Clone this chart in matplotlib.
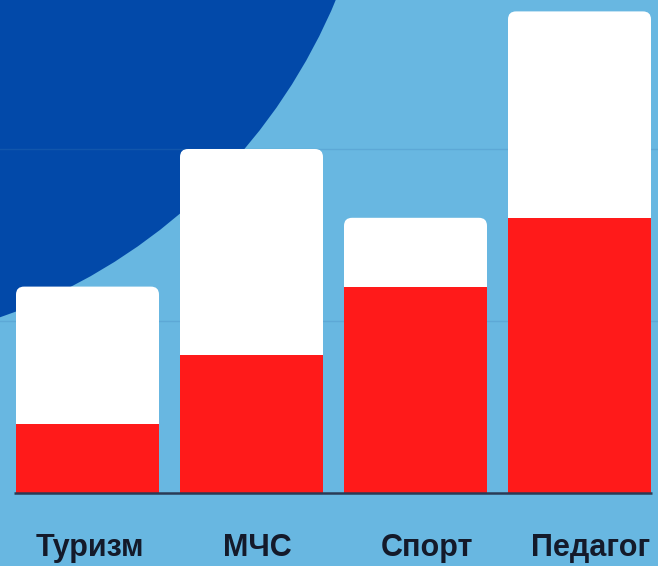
import matplotlib
matplotlib.use("Agg")
import matplotlib.pyplot as plt
from matplotlib.patches import FancyBboxPatch, Ellipse
import numpy as np

categories = ["Туризм", "МЧС", "Спорт", "Педагог"]
red_values = [0.4, 0.8, 1.2, 1.6]
total_values = [1.2, 2.0, 1.6, 2.8]
label_offsets = [0.015, 0.035, 0.07, 0.07]

W, H = 658, 566
fig = plt.figure(figsize=(W / 100, H / 100), dpi=100)
ax = fig.add_axes([0, 0, 1, 1])
bg = "#68b7e1"
ax.set_facecolor(bg)
fig.patch.set_facecolor(bg)

px_x = 164.0
px_y = 172.0
x0 = -87.5 / px_x
ax.set_xlim(x0, x0 + W / px_x)
ax.set_ylim(-(H - 493) / px_y, 493 / px_y)
ax.axis("off")

circ = Ellipse((-190 / W, 1 + 220 / H), 2 * 570 / W, 2 * 570 / H,
               transform=ax.transAxes, facecolor="#0249a9", edgecolor="none", zorder=0)
ax.add_patch(circ)

for g in [1, 2]:
    ax.axhline(g, color="#3f7fb8", alpha=0.25, lw=1.0, zorder=1)

x = np.arange(len(categories))
width = 143 / px_x
r_px = 8
for xi, tot in zip(x, total_values):
    p = FancyBboxPatch((xi - width / 2, 0), width, tot,
                       boxstyle=f"round,pad=0,rounding_size={r_px / px_x}",
                       mutation_aspect=px_x / px_y,
                       facecolor="white", edgecolor="none", zorder=2)
    ax.add_patch(p)
ax.bar(x, red_values, width=width, color="#ff1a1a", edgecolor="none", zorder=3)

ax.plot([x0 + 14 / px_x, x0 + 652 / px_x], [0, 0], color="#2a3a55", lw=1.8,
        zorder=4, solid_capstyle="butt")

for xi, lab, off in zip(x, categories, label_offsets):
    ax.text(xi + off, -(548 - 493) / px_y, lab, ha="center", va="center",
            fontsize=22, fontweight="bold", family="Liberation Sans",
            color="#141a2a", zorder=5)

fig.savefig("out.png", dpi=100, facecolor=bg)
